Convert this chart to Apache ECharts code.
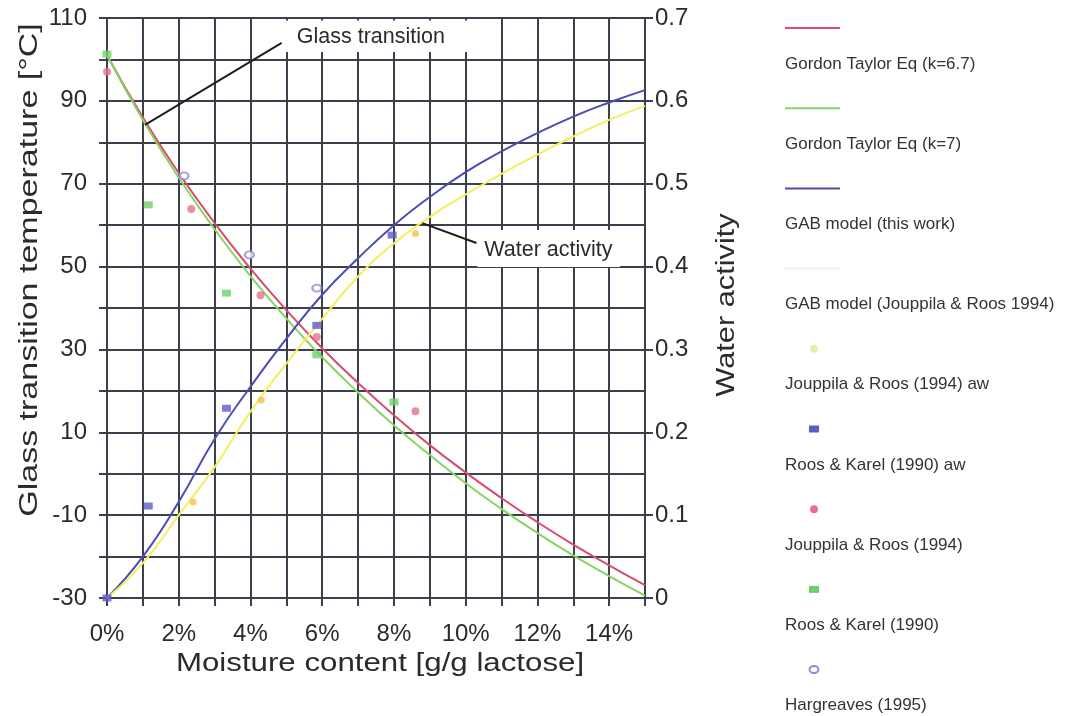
<!DOCTYPE html>
<html><head><meta charset="utf-8">
<script src="https://cdn.jsdelivr.net/npm/echarts/dist/echarts.min.js"></script>
<style>html,body{margin:0;padding:0;background:#fff}#c{width:1075px;height:716px}</style>
</head><body><div id="c"></div>
<script>
// ---- data ----
const moisturePct = [0,1,2,3,4,5,6,7,8,9,10,11,12,13,14,15];
const gtK67 = [101, 86.0, 72.6, 60.5, 49.5, 39.5, 30.3, 21.9, 14.1, 6.9, 0.3, -5.9, -11.7, -17.1, -22.1, -26.9];
const gtK7  = [101, 85.4, 71.5, 59.0, 47.7, 37.5, 28.1, 19.6, 11.7, 4.5, -2.3, -8.5, -14.3, -19.7, -24.7, -29.4];
const gabThisWork = [0, 0.050, 0.116, 0.192, 0.255, 0.313, 0.366, 0.410, 0.450, 0.484, 0.514, 0.539, 0.561, 0.581, 0.598, 0.613];
const gabJouppila = [0, 0.042, 0.100, 0.158, 0.225, 0.283, 0.337, 0.388, 0.428, 0.460, 0.487, 0.512, 0.535, 0.557, 0.577, 0.594];
const jrAwX = [2.4, 4.3, 8.6];            const jrAwY = [0.116, 0.239, 0.44];
const rkAwX = [0, 1.15, 3.33, 5.85, 7.95]; const rkAwY = [0, 0.111, 0.229, 0.329, 0.438];
const jrTgX = [0, 2.35, 4.28, 5.85, 8.6];  const jrTgY = [97, 63.9, 43.1, 33.0, 15.1];
const rkTgX = [0, 1.15, 3.33, 5.85, 8.0];  const rkTgY = [101.3, 64.9, 43.6, 28.7, 17.3];
const hgX = [2.15, 3.97, 5.85];            const hgY = [71.9, 52.8, 44.8];
const xTickValues = [0, 2, 4, 6, 8, 10, 12, 14];
const xTickLabels = ['0%', '2%', '4%', '6%', '8%', '10%', '12%', '14%'];
const leftTickLabels = [-30, -10, 10, 30, 50, 70, 90, 110];
const rightTickLabels = ['0', '0.1', '0.2', '0.3', '0.4', '0.5', '0.6', '0.7'];
const seriesNames = ['Gordon Taylor Eq (k=6.7)', 'Gordon Taylor Eq (k=7)', 'GAB model (this work)',
  'GAB model (Jouppila & Roos 1994)', 'Jouppila & Roos (1994) aw', 'Roos & Karel (1990) aw',
  'Jouppila & Roos (1994)', 'Roos & Karel (1990)', 'Hargreaves (1995)'];
const xTitle = 'Moisture content [g/g lactose]';
const yTitle = 'Glass transition temperature [°C]';
const y2Title = 'Water activity';
const note1 = 'Glass transition';
const note2 = 'Water activity';

// ---- styling ----
const FONT = '"Liberation Sans", Arial, sans-serif';
const GRID = '#3b404c';
const TXT = '#2b2b2b';
const C = {red:'#d84b6c', green:'#88d462', blue:'#4c4cb2', yellow:'#f3f060',
  yDot:'#f0c448', bSq:'#5c5cc8', pDot:'#e9708c', gSq:'#6fcf6a', hg:'#8c8cd6'};

const zip = (xs, ys) => xs.map((x, i) => [x, ys[i]]);
const lineSeries = (name, ys, color, yIdx) => ({
  name, type:'line', yAxisIndex:yIdx, smooth:true, showSymbol:false, symbol:'none',
  data: zip(moisturePct, ys), lineStyle:{color, width:2}, itemStyle:{color}, z:5, silent:true
});
const scatterSeries = (name, xs, ys, yIdx, symbol, size, color, extra) => Object.assign({
  name, type:'scatter', yAxisIndex:yIdx, symbol, symbolSize:size, data: zip(xs, ys),
  itemStyle:{color}, z:6, silent:true
}, extra || {});

const series = [
  lineSeries(seriesNames[0], gtK67, C.red, 0),
  lineSeries(seriesNames[1], gtK7, C.green, 0),
  lineSeries(seriesNames[2], gabThisWork, C.blue, 1),
  lineSeries(seriesNames[3], gabJouppila, C.yellow, 1),
  scatterSeries(seriesNames[4], jrAwX, jrAwY, 1, 'circle', 7, C.yDot),
  scatterSeries(seriesNames[5], rkAwX, rkAwY, 1, 'rect', [9, 7], C.bSq),
  scatterSeries(seriesNames[6], jrTgX, jrTgY, 0, 'circle', 8, C.pDot),
  scatterSeries(seriesNames[7], rkTgX, rkTgY, 0, 'rect', [9, 7], C.gSq),
  scatterSeries(seriesNames[8], hgX, hgY, 0, 'emptyCircle', [9, 7], C.hg,
    {itemStyle:{color:C.hg, borderColor:C.hg, borderWidth:1.2}})
];

const chart = echarts.init(document.getElementById('c'), null, {renderer:'canvas'});
const axisLineStyle = {color:GRID, width:2};
chart.setOption({
  animation:false,
  backgroundColor:'#fff',
  grid:{left:107, right:430, top:18, bottom:118, containLabel:false, outerBoundsMode:'none'},
  xAxis:{type:'value', min:0, max:15, interval:1,
    axisLine:{show:true, onZero:false, lineStyle:axisLineStyle},
    axisTick:{show:true, length:8, lineStyle:axisLineStyle},
    axisLabel:{fontSize:24, color:TXT, fontFamily:FONT, margin:24,
      formatter:v => { const i = xTickValues.indexOf(Math.round(v)); return (i >= 0 && Math.abs(v - Math.round(v)) < 1e-6) ? xTickLabels[i] : ''; }},
    splitLine:{show:true, lineStyle:axisLineStyle}},
  yAxis:[
    {type:'value', min:-30, max:110, interval:10, position:'left',
      axisLine:{show:true, onZero:false, lineStyle:axisLineStyle},
      axisTick:{show:true, length:8, lineStyle:axisLineStyle},
      axisLabel:{fontSize:24, color:TXT, fontFamily:FONT, margin:20,
        formatter:v => leftTickLabels.indexOf(Math.round(v)) >= 0 ? String(Math.round(v)) : ''},
      splitLine:{show:true, lineStyle:axisLineStyle}},
    {type:'value', min:0, max:0.7, interval:0.1, position:'right',
      axisLine:{show:true, onZero:false, lineStyle:axisLineStyle},
      axisTick:{show:true, length:8, lineStyle:axisLineStyle},
      axisLabel:{fontSize:24, color:TXT, fontFamily:FONT, margin:10,
        formatter:v => rightTickLabels[Math.round(v * 10)]},
      splitLine:{show:false}}
  ],
  series
});

// ---- annotations, titles and legend (graphic) ----
const P = (x, y) => chart.convertToPixel({xAxisIndex:0, yAxisIndex:0}, [x, y]);
const g = [];
// Glass transition note
{
  const a = P(4.93, 109.4), b = P(10.8, 101.8);
  g.push({type:'rect', shape:{x:a[0], y:a[1], width:b[0]-a[0], height:b[1]-a[1]}, style:{fill:'#fff'}, z:20});
  const t = P(5.29, 105.4);
  g.push({type:'text', x:t[0], y:t[1], style:{text:note1, fill:TXT, font:'21.5px ' + FONT, textVerticalAlign:'middle'}, z:21});
  const p1 = P(1.06, 84.2), p2 = P(4.87, 104);
  g.push({type:'line', shape:{x1:p1[0], y1:p1[1], x2:p2[0], y2:p2[1]}, style:{stroke:'#1e1e1e', lineWidth:2}, z:21});
}
// Water activity note
{
  const a = P(10.33, 58.8), b = P(14.3, 49.9);
  g.push({type:'rect', shape:{x:a[0], y:a[1], width:b[0]-a[0], height:b[1]-a[1]}, style:{fill:'#fff'}, z:20});
  const t = P(10.52, 54.0);
  g.push({type:'text', x:t[0], y:t[1], style:{text:note2, fill:TXT, font:'21.5px ' + FONT, textVerticalAlign:'middle'}, z:21});
  const p1 = P(8.79, 60.5), p2 = P(10.3, 55.7);
  g.push({type:'line', shape:{x1:p1[0], y1:p1[1], x2:p2[0], y2:p2[1]}, style:{stroke:'#1e1e1e', lineWidth:2}, z:21});
}
// Axis titles (stretched along reading direction like the reference)
g.push({type:'text', x:380, y:664, scaleX:1.25, style:{text:xTitle, fill:TXT, font:'25px ' + FONT, textAlign:'center', textVerticalAlign:'middle'}, z:30});
g.push({type:'text', x:30, y:270, rotation:Math.PI/2, scaleX:1.36, style:{text:yTitle, fill:TXT, font:'25px ' + FONT, textAlign:'center', textVerticalAlign:'middle'}, z:30});
g.push({type:'text', x:727, y:305, rotation:Math.PI/2, scaleX:1.23, style:{text:y2Title, fill:TXT, font:'25px ' + FONT, textAlign:'center', textVerticalAlign:'middle'}, z:30});

// Legend: symbol above text, stacked
const legendKinds = [
  {kind:'line', color:C.red}, {kind:'line', color:C.green}, {kind:'line', color:C.blue},
  {kind:'line', color:'#f4f4e6'}, {kind:'dot', color:'#e6ecb0'}, {kind:'rect', color:C.bSq},
  {kind:'dot', color:C.pDot}, {kind:'rect', color:C.gSq}, {kind:'ring', color:C.hg}
];
const LEG_X = 785, LEG_SYM_Y0 = 28, LEG_TXT_Y0 = 64, LEG_STEP = 80.2;
seriesNames.forEach((name, i) => {
  const k = legendKinds[i];
  const sy = LEG_SYM_Y0 + i * LEG_STEP, ty = LEG_TXT_Y0 + i * LEG_STEP;
  if (k.kind === 'line') g.push({type:'line', shape:{x1:LEG_X, y1:sy, x2:LEG_X + 55, y2:sy}, style:{stroke:k.color, lineWidth:2}});
  else if (k.kind === 'dot') g.push({type:'circle', shape:{cx:LEG_X + 29, cy:sy, r:4}, style:{fill:k.color}});
  else if (k.kind === 'rect') g.push({type:'rect', shape:{x:LEG_X + 24, y:sy - 3.5, width:10, height:7}, style:{fill:k.color}});
  else g.push({type:'ellipse', shape:{cx:LEG_X + 29, cy:sy, rx:4.5, ry:3.5}, style:{fill:'#fff', stroke:k.color, lineWidth:2}});
  g.push({type:'text', x:LEG_X, y:ty, style:{text:name, fill:'#333', font:'17px ' + FONT, textVerticalAlign:'middle'}});
});
chart.setOption({graphic:g});
</script>
</body></html>
